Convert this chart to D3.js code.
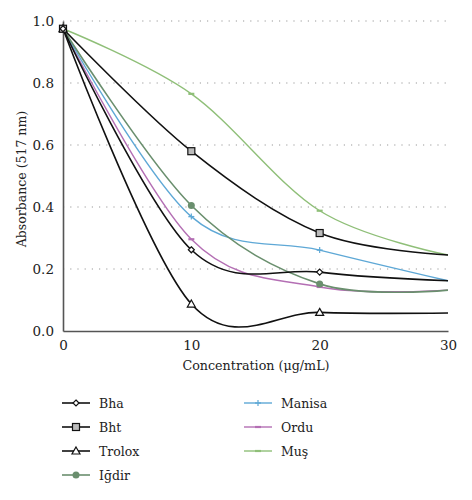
<!DOCTYPE html>
<html><head><meta charset="utf-8">
<script src="https://cdn.jsdelivr.net/npm/d3@7"></script>
<style>body{margin:0;background:#fff;} svg{display:block;} svg text{font-family:"DejaVu Serif",serif !important;}</style>
</head><body><svg id="c" width="472" height="500"></svg>
<script>
const concentrations = [0, 10, 20, 30];
const seriesNames = ["Bha", "Bht", "Trolox", "Iğdir", "Manisa", "Ordu", "Muş"];
const bha    = [0.975, 0.262, 0.190, 0.162];
const bht    = [0.975, 0.580, 0.316, 0.245];
const trolox = [0.975, 0.087, 0.060, 0.058];
const igdir  = [0.975, 0.405, 0.152, 0.132];
const manisa = [0.975, 0.369, 0.261, 0.162];
const ordu   = [0.975, 0.296, 0.142, 0.132];
const mus    = [0.975, 0.765, 0.388, 0.245];
const yTicks = [0.0, 0.2, 0.4, 0.6, 0.8, 1.0];
const xTicks = [0, 10, 20, 30];

const styles = {
  "Bha":   {color:"#111", width:1.6, marker:"diamond", fill:"#fff"},
  "Bht":   {color:"#111", width:1.6, marker:"square", fill:"#bbb"},
  "Trolox":{color:"#111", width:1.6, marker:"triangle", fill:"#fff"},
  "Iğdir": {color:"#6a8f6e", width:1.6, marker:"circle", fill:"#6a8f6e"},
  "Manisa":{color:"#5ea8d6", width:1.4, marker:"plus", fill:"none"},
  "Ordu":  {color:"#b46fb4", width:1.4, marker:"dash", fill:"none"},
  "Muş":   {color:"#8fbf78", width:1.4, marker:"dash", fill:"none"}
};
const dataMap = {"Bha":bha,"Bht":bht,"Trolox":trolox,"Iğdir":igdir,"Manisa":manisa,"Ordu":ordu,"Muş":mus};

const svg = d3.select("#c");
const x = d3.scaleLinear().domain([0,30]).range([63,448]);
const y = d3.scaleLinear().domain([0,1]).range([331,21]);

svg.append("g").selectAll("line").data(yTicks.filter(d=>d>0)).join("line")
  .attr("x1",x(0)).attr("x2",451).attr("y1",d=>y(d)).attr("y2",d=>y(d))
  .attr("stroke","#999").attr("stroke-width",1.2).attr("stroke-dasharray","1.2,6");

const xa = svg.append("g").attr("transform",`translate(0,${y(0)})`)
  .call(d3.axisBottom(x).tickValues(xTicks).tickSize(0).tickPadding(9).tickFormat(d3.format("d")));
const ya = svg.append("g").attr("transform",`translate(${x(0)},0)`)
  .call(d3.axisLeft(y).tickValues(yTicks).tickSize(0).tickPadding(9).tickFormat(d3.format(".1f")));
[xa,ya].forEach(a=>{
  a.attr("font-family",null);
  a.select(".domain").attr("stroke","#555").attr("stroke-width",1.6);
  a.selectAll("text").attr("font-size",13.5).attr("fill","#222");
});

svg.append("text").attr("x",256).attr("y",370).attr("text-anchor","middle")
  .attr("font-size",12.7).attr("fill","#222").text("Concentration (μg/mL)");
svg.append("text").attr("transform","translate(26,179) rotate(-90)").attr("text-anchor","middle")
  .attr("font-size",12.5).attr("fill","#222").text("Absorbance (517 nm)");

const line = d3.line().x((d,i)=>x(concentrations[i])).y(d=>y(d)).curve(d3.curveCardinal.tension(0));

function marker(g, type, cx, cy, st){
  if(type==="diamond"){
    g.append("path").attr("d",`M${cx},${cy-3}L${cx+3},${cy}L${cx},${cy+3}L${cx-3},${cy}Z`)
      .attr("fill",st.fill).attr("stroke",st.color).attr("stroke-width",1.2);
  } else if(type==="square"){
    g.append("rect").attr("x",cx-3.5).attr("y",cy-3.5).attr("width",7).attr("height",7)
      .attr("fill",st.fill).attr("stroke",st.color).attr("stroke-width",1.2);
  } else if(type==="triangle"){
    g.append("path").attr("d",`M${cx},${cy-4}L${cx+4},${cy+3}L${cx-4},${cy+3}Z`)
      .attr("fill",st.fill).attr("stroke",st.color).attr("stroke-width",1.2);
  } else if(type==="circle"){
    g.append("circle").attr("cx",cx).attr("cy",cy).attr("r",3.5).attr("fill",st.fill);
  } else if(type==="plus"){
    g.append("line").attr("x1",cx).attr("x2",cx).attr("y1",cy-3).attr("y2",cy+3).attr("stroke",st.color).attr("stroke-width",1.2);
    g.append("line").attr("x1",cx-3).attr("x2",cx+3).attr("y1",cy).attr("y2",cy).attr("stroke",st.color).attr("stroke-width",1.4);
  } else if(type==="dash"){
    g.append("line").attr("x1",cx-3).attr("x2",cx+3).attr("y1",cy).attr("y2",cy).attr("stroke",st.color).attr("stroke-width",2.2);
  }
}

const drawOrder = ["Muş","Ordu","Manisa","Iğdir","Trolox","Bht","Bha"];
drawOrder.forEach(name=>{
  const st = styles[name], vals = dataMap[name];
  const g = svg.append("g");
  g.append("path").datum(vals).attr("d",line).attr("fill","none")
    .attr("stroke",st.color).attr("stroke-width",st.width);
  vals.forEach((v,i)=>{ if(i>0 && i<3) marker(g, st.marker, x(concentrations[i]), y(v), st); });
});
drawOrder.forEach(name=>{
  const st = styles[name];
  marker(svg.append("g"), st.marker, x(0), y(dataMap[name][0]), st);
});

const leg = svg.append("g");
seriesNames.forEach((name,i)=>{
  const col = i<4 ? 0 : 1, row = i<4 ? i : i-4;
  const lx = col===0 ? 62 : 244, ly = 403 + row*24;
  const st = styles[name];
  const g = leg.append("g");
  g.append("line").attr("x1",lx).attr("x2",lx+28).attr("y1",ly).attr("y2",ly)
    .attr("stroke",st.color).attr("stroke-width",st.width);
  marker(g, st.marker, lx+14, ly, st);
  g.append("text").attr("x",lx+37).attr("y",ly+5).attr("font-size",12.5).attr("fill","#222").text(name);
});
</script></body></html>
